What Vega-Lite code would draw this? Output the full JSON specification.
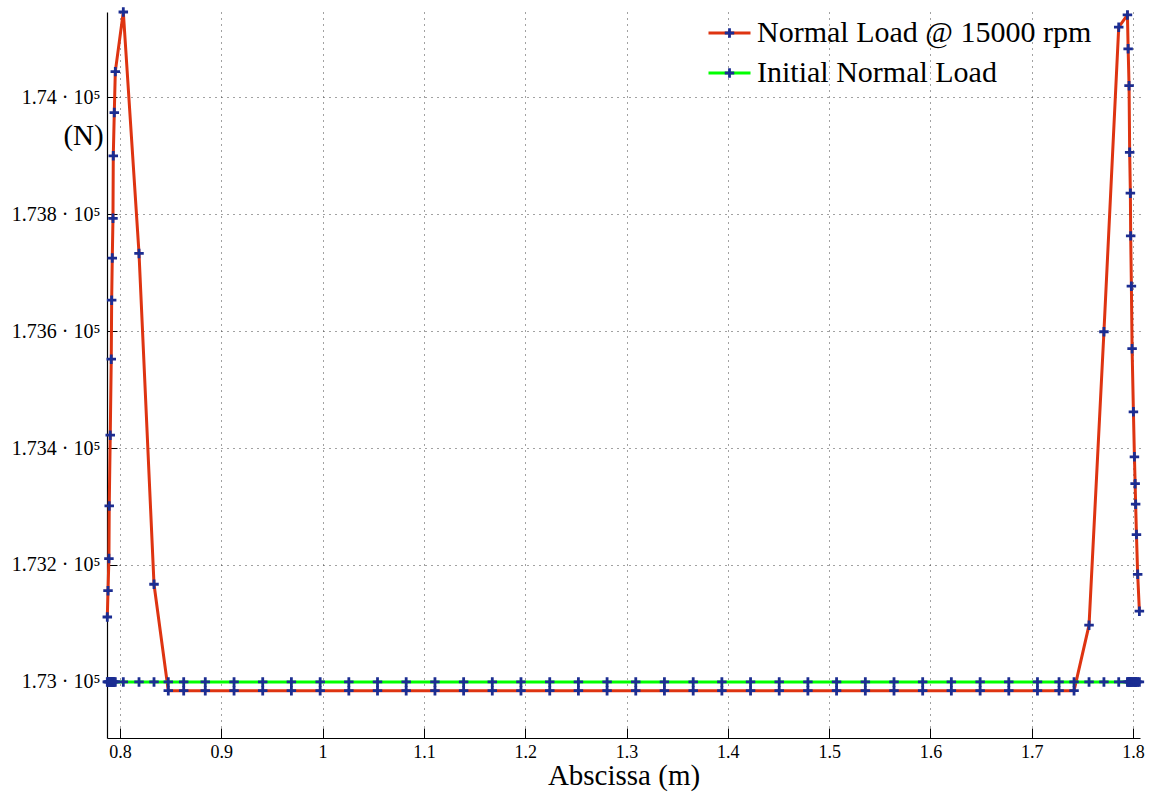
{
  "$schema": "https://vega.github.io/schema/vega-lite/v6.json",
  "width": 1033,
  "height": 726,
  "autosize": {"type": "none"},
  "padding": {"left": 107, "top": 12, "right": 13, "bottom": 54},
  "background": "white",
  "config": {"view": {"stroke": null}, "font": "Liberation Serif"},
  "data": {"values": [
    {"x": 0.7875, "Normal Load @ 15000 rpm": 173111, "Initial Normal Load": 173000},
    {"x": 0.7882, "Normal Load @ 15000 rpm": 173156, "Initial Normal Load": 173000},
    {"x": 0.7891, "Normal Load @ 15000 rpm": 173211, "Initial Normal Load": 173000},
    {"x": 0.7894, "Normal Load @ 15000 rpm": 173301, "Initial Normal Load": 173000},
    {"x": 0.7904, "Normal Load @ 15000 rpm": 173422, "Initial Normal Load": 173000},
    {"x": 0.7914, "Normal Load @ 15000 rpm": 173552, "Initial Normal Load": 173000},
    {"x": 0.7918, "Normal Load @ 15000 rpm": 173653, "Initial Normal Load": 173000},
    {"x": 0.7924, "Normal Load @ 15000 rpm": 173725, "Initial Normal Load": 173000},
    {"x": 0.7931, "Normal Load @ 15000 rpm": 173793, "Initial Normal Load": 173000},
    {"x": 0.7934, "Normal Load @ 15000 rpm": 173900, "Initial Normal Load": 173000},
    {"x": 0.7944, "Normal Load @ 15000 rpm": 173974, "Initial Normal Load": 173000},
    {"x": 0.7954, "Normal Load @ 15000 rpm": 174044, "Initial Normal Load": 173000},
    {"x": 0.8033, "Normal Load @ 15000 rpm": 174146, "Initial Normal Load": 173000},
    {"x": 0.8188, "Normal Load @ 15000 rpm": 173733, "Initial Normal Load": 173000},
    {"x": 0.8336, "Normal Load @ 15000 rpm": 173167, "Initial Normal Load": 173000},
    {"x": 0.8477, "Normal Load @ 15000 rpm": 172985, "Initial Normal Load": 173000},
    {"x": 0.8629, "Normal Load @ 15000 rpm": 172985, "Initial Normal Load": 173000},
    {"x": 0.8842, "Normal Load @ 15000 rpm": 172985, "Initial Normal Load": 173000},
    {"x": 0.9126, "Normal Load @ 15000 rpm": 172985, "Initial Normal Load": 173000},
    {"x": 0.9409, "Normal Load @ 15000 rpm": 172985, "Initial Normal Load": 173000},
    {"x": 0.9692, "Normal Load @ 15000 rpm": 172985, "Initial Normal Load": 173000},
    {"x": 0.9976, "Normal Load @ 15000 rpm": 172985, "Initial Normal Load": 173000},
    {"x": 1.0259, "Normal Load @ 15000 rpm": 172985, "Initial Normal Load": 173000},
    {"x": 1.0542, "Normal Load @ 15000 rpm": 172985, "Initial Normal Load": 173000},
    {"x": 1.0825, "Normal Load @ 15000 rpm": 172985, "Initial Normal Load": 173000},
    {"x": 1.1109, "Normal Load @ 15000 rpm": 172985, "Initial Normal Load": 173000},
    {"x": 1.1392, "Normal Load @ 15000 rpm": 172985, "Initial Normal Load": 173000},
    {"x": 1.1675, "Normal Load @ 15000 rpm": 172985, "Initial Normal Load": 173000},
    {"x": 1.1958, "Normal Load @ 15000 rpm": 172985, "Initial Normal Load": 173000},
    {"x": 1.2242, "Normal Load @ 15000 rpm": 172985, "Initial Normal Load": 173000},
    {"x": 1.2525, "Normal Load @ 15000 rpm": 172985, "Initial Normal Load": 173000},
    {"x": 1.2808, "Normal Load @ 15000 rpm": 172985, "Initial Normal Load": 173000},
    {"x": 1.3091, "Normal Load @ 15000 rpm": 172985, "Initial Normal Load": 173000},
    {"x": 1.3374, "Normal Load @ 15000 rpm": 172985, "Initial Normal Load": 173000},
    {"x": 1.3658, "Normal Load @ 15000 rpm": 172985, "Initial Normal Load": 173000},
    {"x": 1.3941, "Normal Load @ 15000 rpm": 172985, "Initial Normal Load": 173000},
    {"x": 1.4224, "Normal Load @ 15000 rpm": 172985, "Initial Normal Load": 173000},
    {"x": 1.4507, "Normal Load @ 15000 rpm": 172985, "Initial Normal Load": 173000},
    {"x": 1.4790, "Normal Load @ 15000 rpm": 172985, "Initial Normal Load": 173000},
    {"x": 1.5073, "Normal Load @ 15000 rpm": 172985, "Initial Normal Load": 173000},
    {"x": 1.5357, "Normal Load @ 15000 rpm": 172985, "Initial Normal Load": 173000},
    {"x": 1.5640, "Normal Load @ 15000 rpm": 172985, "Initial Normal Load": 173000},
    {"x": 1.5923, "Normal Load @ 15000 rpm": 172985, "Initial Normal Load": 173000},
    {"x": 1.6206, "Normal Load @ 15000 rpm": 172985, "Initial Normal Load": 173000},
    {"x": 1.6490, "Normal Load @ 15000 rpm": 172985, "Initial Normal Load": 173000},
    {"x": 1.6773, "Normal Load @ 15000 rpm": 172985, "Initial Normal Load": 173000},
    {"x": 1.7056, "Normal Load @ 15000 rpm": 172985, "Initial Normal Load": 173000},
    {"x": 1.7269, "Normal Load @ 15000 rpm": 172985, "Initial Normal Load": 173000},
    {"x": 1.7417, "Normal Load @ 15000 rpm": 172985, "Initial Normal Load": 173000},
    {"x": 1.7565, "Normal Load @ 15000 rpm": 173097, "Initial Normal Load": 173000},
    {"x": 1.7712, "Normal Load @ 15000 rpm": 173599, "Initial Normal Load": 173000},
    {"x": 1.7858, "Normal Load @ 15000 rpm": 174120, "Initial Normal Load": 173000},
    {"x": 1.7944, "Normal Load @ 15000 rpm": 174141, "Initial Normal Load": 173000},
    {"x": 1.7951, "Normal Load @ 15000 rpm": 174083, "Initial Normal Load": 173000},
    {"x": 1.7960, "Normal Load @ 15000 rpm": 174020, "Initial Normal Load": 173000},
    {"x": 1.7966, "Normal Load @ 15000 rpm": 173906, "Initial Normal Load": 173000},
    {"x": 1.7973, "Normal Load @ 15000 rpm": 173836, "Initial Normal Load": 173000},
    {"x": 1.7976, "Normal Load @ 15000 rpm": 173763, "Initial Normal Load": 173000},
    {"x": 1.7983, "Normal Load @ 15000 rpm": 173677, "Initial Normal Load": 173000},
    {"x": 1.7990, "Normal Load @ 15000 rpm": 173570, "Initial Normal Load": 173000},
    {"x": 1.8003, "Normal Load @ 15000 rpm": 173462, "Initial Normal Load": 173000},
    {"x": 1.8013, "Normal Load @ 15000 rpm": 173385, "Initial Normal Load": 173000},
    {"x": 1.8020, "Normal Load @ 15000 rpm": 173339, "Initial Normal Load": 173000},
    {"x": 1.8025, "Normal Load @ 15000 rpm": 173304, "Initial Normal Load": 173000},
    {"x": 1.8033, "Normal Load @ 15000 rpm": 173252, "Initial Normal Load": 173000},
    {"x": 1.8045, "Normal Load @ 15000 rpm": 173184, "Initial Normal Load": 173000},
    {"x": 1.8062, "Normal Load @ 15000 rpm": 173121, "Initial Normal Load": 173000}
  ]},
  "transform": [{"fold": ["Normal Load @ 15000 rpm", "Initial Normal Load"], "as": ["s", "y"]}],
  "encoding": {
    "x": {
      "field": "x", "type": "quantitative",
      "scale": {"domain": [0.7872, 1.8068], "nice": false, "zero": false},
      "axis": {
        "values": [0.8, 0.9, 1, 1.1, 1.2, 1.3, 1.4, 1.5, 1.6, 1.7, 1.8],
        "format": "~g",
        "title": "Abscissa (m)",
        "grid": true, "gridDash": [1, 5], "gridColor": "#444", "gridWidth": 1,
        "tickSize": -10, "tickColor": "black", "tickWidth": 1,
        "domainColor": "black", "domainWidth": 1.2,
        "labelPadding": 15, "labelFontSize": 18, "labelColor": "black", "labelFont": "Liberation Serif", "labelFlush": false,
        "titleFont": "Liberation Serif", "titleFontSize": 29, "titleFontWeight": "normal", "titleColor": "black", "titlePadding": 0
      }
    },
    "y": {
      "field": "y", "type": "quantitative",
      "scale": {"domain": [172904, 174146], "nice": false, "zero": false},
      "axis": {
        "values": [173000, 173200, 173400, 173600, 173800, 174000],
        "labelExpr": "format(datum.value / 100000, '.4~f') + ' · 10⁵'",
        "title": "(N)", "titleAngle": 0, "titleX": -24, "titleY": 123, "titleAlign": "center", "titleBaseline": "middle",
        "titleFont": "Liberation Serif", "titleFontSize": 29, "titleFontWeight": "normal", "titleColor": "black",
        "grid": true, "gridDash": [1, 5], "gridColor": "#444", "gridWidth": 1,
        "tickSize": -10, "tickColor": "black", "tickWidth": 1,
        "domainColor": "black", "domainWidth": 1.2,
        "labelPadding": 17, "labelFontSize": 20, "labelColor": "black", "labelFont": "Liberation Serif", "labelFlush": false
      }
    }
  },
  "layer": [
    {
      "mark": {"type": "line", "strokeWidth": 3},
      "encoding": {
        "color": {
          "field": "s", "type": "nominal",
          "scale": {"domain": ["Normal Load @ 15000 rpm", "Initial Normal Load"], "range": ["#de3411", "#00ff00"]},
          "legend": {
            "orient": "none", "legendX": 600, "legendY": 1, "title": null, "padding": 0,
            "symbolType": "stroke", "symbolSize": 1764, "symbolStrokeWidth": 3,
            "labelFontSize": 30, "labelFont": "Liberation Serif", "labelColor": "black", "labelLimit": 800, "labelOffset": 5,
            "clipHeight": 40, "rowPadding": 0
          }
        }
      }
    },
    {
      "mark": {"type": "point", "filled": false, "stroke": "#1b2d92", "strokeWidth": 2.8, "size": 90, "opacity": 1},
      "encoding": {
        "shape": {
          "field": "s", "type": "nominal",
          "scale": {"range": ["M-1,0H1M0,-1V1", "M-1,0H1M0,-1V1"]},
          "legend": {
            "orient": "none", "legendX": 616, "legendY": 1, "title": null, "padding": 0,
            "symbolSize": 90, "symbolStrokeColor": "#1b2d92", "symbolFillColor": "transparent", "symbolStrokeWidth": 2.8,
            "labelExpr": "''", "labelFontSize": 1, "clipHeight": 40, "rowPadding": 0
          }
        }
      }
    }
  ]
}
